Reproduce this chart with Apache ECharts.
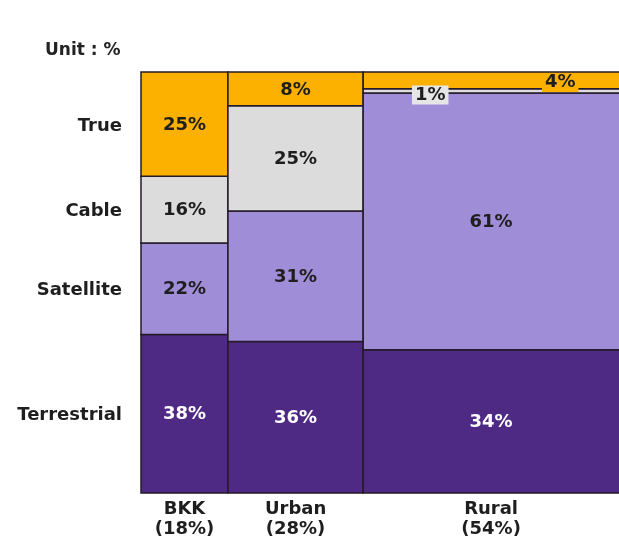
<!DOCTYPE html>
<html>
<head>
<meta charset="utf-8">
<script src="https://cdn.jsdelivr.net/npm/echarts@6/dist/echarts.min.js"></script>
<style>
html,body{margin:0;padding:0;background:#fff;}
#chart{width:619px;height:546px;}
</style>
</head>
<body>
<div id="chart"></div>
<script>
// ---- data ----
const columns = ['BKK', 'Urban', 'Rural'];
const columnShares = [18, 28, 54];
const segmentNames = ['Terrestrial', 'Satellite', 'Cable', 'True'];
const terrestrial = [38, 36, 34];
const satellite = [22, 31, 61];
const cable = [16, 25, 1];
const trueTV = [25, 8, 4];

// ---- styles ----
const segColors = ['#4f2a85', '#a08dd7', '#dcdcdc', '#fcb000'];
const labelColors = ['#ffffff', '#1e1e1e', '#1e1e1e', '#1e1e1e'];
const FONT = 'bold 18px "DejaVu Sans", Verdana, sans-serif';
// placement of labels in very thin cells (fraction across the visible column width, pixel y shift)
const thinLabelX = { 2: 0.262, 3: 0.77 };
const thinLabelDy = { 2: 3, 3: 1 };
const thinLabelBg = { 2: '#e6e6e6', 3: '#fcb000' };

const segValues = [terrestrial, satellite, cable, trueTV];
const data = [];
let xCum = 0;
columns.forEach((col, c) => {
  const x0 = xCum, x1 = xCum + columnShares[c];
  xCum = x1;
  let total = 0;
  segValues.forEach(arr => total += arr[c]);
  let yCum = 0;
  segValues.forEach((arr, s) => {
    const y0 = yCum / total * 100;
    yCum += arr[c];
    const y1 = yCum / total * 100;
    data.push([x0, x1, y0, y1, arr[c], s, c]);
  });
});

const chart = echarts.init(document.getElementById('chart'));
chart.setOption({
  animation: false,
  backgroundColor: '#ffffff',
  grid: { left: 141, width: 483, top: 72, bottom: 53, outerBoundsMode: 'none', containLabel: false },
  xAxis: { type: 'value', min: 0, max: 100, show: false },
  yAxis: { type: 'value', min: 0, max: 100, show: false },
  graphic: [{
    type: 'text', left: 45, top: 42,
    style: { text: 'Unit : %', font: 'bold 17px "DejaVu Sans", Verdana, sans-serif', fill: '#222' }
  }],
  series: [{
    type: 'custom',
    clip: false,
    data: data,
    renderItem: function (params, api) {
      const x0 = api.value(0), x1 = api.value(1), y0 = api.value(2), y1 = api.value(3);
      const v = api.value(4), s = api.value(5), c = api.value(6);
      const p0 = api.coord([x0, y0]);
      const p1 = api.coord([x1, y1]);
      const w = p1[0] - p0[0], h = p0[1] - p1[1];
      const children = [{
        type: 'rect',
        shape: { x: p0[0], y: p1[1], width: w, height: h },
        style: { fill: segColors[s], stroke: '#241a28', lineWidth: 1.5 }
      }];
      const cy = (p0[1] + p1[1]) / 2 + 1;
      const visW = Math.min(w, 619 - p0[0]);
      const txt = { text: v + '%', x: p0[0] + visW / 2, y: cy, font: FONT, fill: labelColors[s], align: 'center', verticalAlign: 'middle' };
      if (h < 25 && thinLabelX[s] !== undefined && v < 5) {
        txt.x = p0[0] + visW * thinLabelX[s];
        txt.y = cy + thinLabelDy[s];
        txt.backgroundColor = thinLabelBg[s];
        txt.padding = [1, 3, 0, 3];
      }
      children.push({ type: 'text', z2: 10, style: txt });
      if (c === 0) {
        children.push({ type: 'text', style: { text: segmentNames[s], x: p0[0] - 19, y: cy + 1, font: FONT, fill: '#1e1e1e', align: 'right', verticalAlign: 'middle' } });
      }
      if (s === 0) {
        children.push({ type: 'text', style: { text: columns[c] + '\n(' + columnShares[c] + '%)', x: p0[0] + visW / 2, y: p0[1] + 6, font: FONT, lineHeight: 20, fill: '#1e1e1e', align: 'center', verticalAlign: 'top' } });
      }
      return { type: 'group', children: children };
    }
  }]
});
</script>
</body>
</html>
